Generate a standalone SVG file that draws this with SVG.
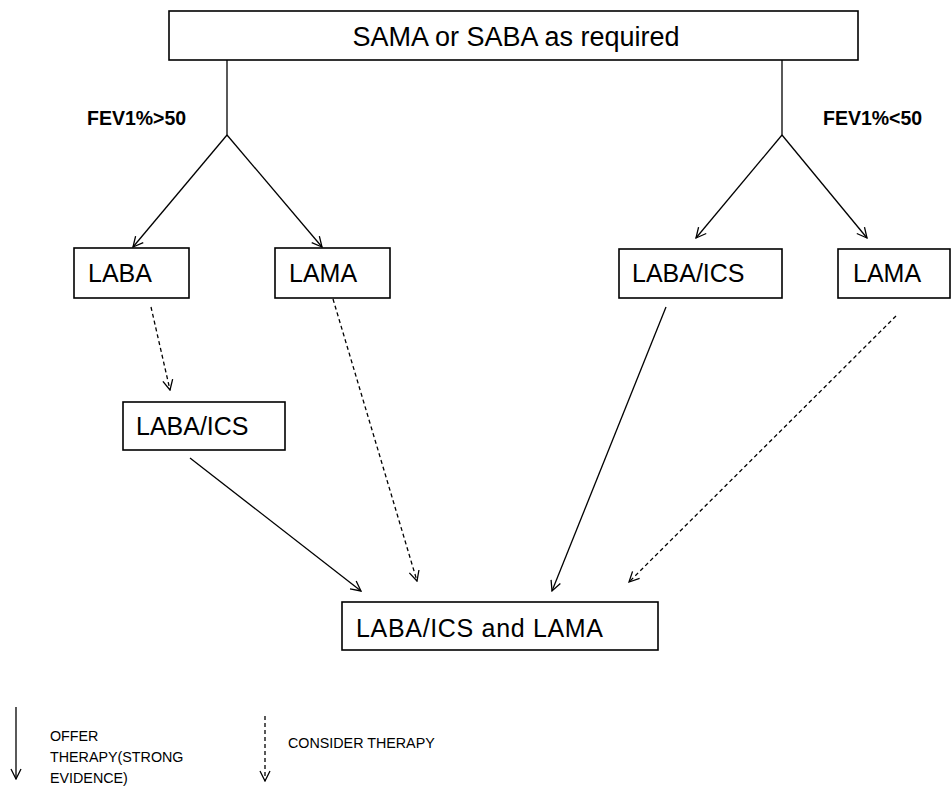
<svg xmlns="http://www.w3.org/2000/svg" width="952" height="789" viewBox="0 0 952 789">
<defs>
<marker id="arr" viewBox="0 0 12 12" refX="11" refY="6" markerWidth="12" markerHeight="12" markerUnits="userSpaceOnUse" orient="auto">
<path d="M1,1 L11,6 L1,11" fill="none" stroke="#000" stroke-width="1.3"/>
</marker>
</defs>
<style>
.box{fill:#fff;stroke:#000;stroke-width:1.6}
.t{font-family:"Liberation Sans",Arial,sans-serif;font-size:25px;fill:#000}
.lbl{font-family:"Liberation Sans",Arial,sans-serif;font-size:19.5px;font-weight:bold;fill:#000}
.leg{font-family:"Liberation Sans",Arial,sans-serif;font-size:14.3px;fill:#000}
.solid{fill:none;stroke:#000;stroke-width:1.3}
.dash{fill:none;stroke:#000;stroke-width:1.3;stroke-dasharray:4 3}
.arr{marker-end:url(#arr)}
</style>
<rect width="952" height="789" fill="#fff"/>

<g id="connectors">
<line class="solid" x1="227" y1="60" x2="227" y2="135"/>
<line class="solid arr" x1="227" y1="135" x2="133" y2="247"/>
<line class="solid arr" x1="227" y1="135" x2="322" y2="247"/>
<line class="solid" x1="782" y1="60" x2="782" y2="135"/>
<line class="solid arr" x1="782" y1="135" x2="696" y2="238"/>
<line class="solid arr" x1="782" y1="135" x2="867" y2="238"/>
<line class="dash arr" x1="151" y1="307" x2="170" y2="390"/>
<line class="dash arr" x1="333" y1="299" x2="417" y2="581"/>
<line class="solid arr" x1="190" y1="458" x2="361" y2="591"/>
<line class="solid arr" x1="666" y1="307" x2="552" y2="591"/>
<line class="dash arr" x1="896" y1="316" x2="629" y2="582"/>
</g>

<g id="top">
<rect class="box" x="169" y="11" width="689" height="49"/>
<text class="t" x="516" y="46" text-anchor="middle" style="font-size:27px">SAMA or SABA as required</text>
</g>
<g id="label-left"><text class="lbl" x="87" y="125">FEV1%&gt;50</text></g>
<g id="label-right"><text class="lbl" x="823" y="125">FEV1%&lt;50</text></g>

<g id="laba-left">
<rect class="box" x="74" y="248" width="115" height="50"/>
<text class="t" x="88" y="282">LABA</text>
</g>
<g id="lama-left">
<rect class="box" x="275" y="248" width="115" height="50"/>
<text class="t" x="289" y="282">LAMA</text>
</g>
<g id="labaics-right">
<rect class="box" x="619" y="249" width="163" height="49"/>
<text class="t" x="632" y="282">LABA/ICS</text>
</g>
<g id="lama-right">
<rect class="box" x="838" y="249" width="112" height="49"/>
<text class="t" x="853" y="282">LAMA</text>
</g>
<g id="labaics-mid">
<rect class="box" x="123" y="402" width="162" height="48"/>
<text class="t" x="136" y="435">LABA/ICS</text>
</g>
<g id="combo">
<rect class="box" x="342" y="602" width="316" height="48"/>
<text class="t" x="356" y="637" textLength="247" lengthAdjust="spacing">LABA/ICS and LAMA</text>
</g>

<g id="legend">
<line class="solid arr" x1="16" y1="707" x2="16" y2="779"/>
<text class="leg" x="50" y="741">OFFER</text>
<text class="leg" x="50" y="762">THERAPY(STRONG</text>
<text class="leg" x="50" y="783">EVIDENCE)</text>
<line class="dash arr" x1="265" y1="716" x2="265" y2="781"/>
<text class="leg" x="288" y="748">CONSIDER THERAPY</text>
</g>
</svg>
